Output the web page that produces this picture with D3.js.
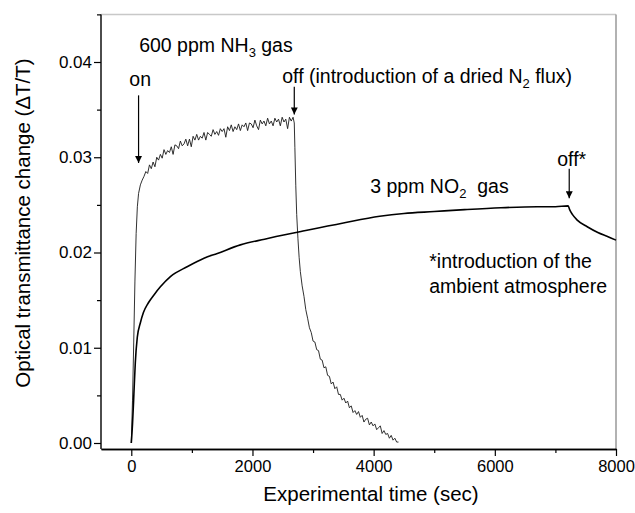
<!DOCTYPE html>
<html>
<head>
<meta charset="utf-8">
<script src="https://cdn.jsdelivr.net/npm/d3@7"></script>
<style>
  html, body { margin: 0; padding: 0; background: #fff; }
  svg { display: block; font-family: "Liberation Sans", Arial, sans-serif; }
</style>
</head>
<body>
<svg id="chart" width="635" height="513"></svg>
<script>
// time (sec), dT/T
const no2Time = [0, 20, 35, 50, 66, 99, 149, 200, 280, 380, 480, 650, 920, 1200, 1420, 1800, 2200,
  2800, 3500, 4100, 4500, 5000, 5500, 6100, 6700, 7000, 7210, 7235, 7280, 7360, 7525, 7700, 7850, 8000];
const no2Value = [0, 0.0020, 0.0040, 0.0062, 0.0084, 0.0111, 0.0126, 0.0137, 0.0147, 0.0156, 0.0164,
  0.0175, 0.0185, 0.0194, 0.0199, 0.0208, 0.0214, 0.0222, 0.0231, 0.0238, 0.0241, 0.0243, 0.0245,
  0.0247, 0.0248, 0.0248, 0.0249, 0.0245, 0.0240, 0.0234, 0.0227, 0.0221, 0.0217, 0.0213];

const nh3Time = [0, 20, 40, 60, 80, 100, 120, 150,
  180, 210, 240, 270, 300, 330, 360, 390, 420, 450, 480, 510, 540, 570, 600, 630, 660, 690, 720,
  750, 780, 810, 840, 870, 900, 930, 960, 990, 1020, 1050, 1080, 1110, 1140, 1170, 1200, 1230,
  1260, 1290, 1320, 1350, 1380, 1410, 1440, 1470, 1500, 1530, 1560, 1590, 1620, 1650, 1680, 1710,
  1740, 1770, 1800, 1830, 1860, 1890, 1920, 1950, 1980, 2010, 2040, 2070, 2100, 2130, 2160, 2190,
  2220, 2250, 2280, 2310, 2340, 2370, 2400, 2430, 2460, 2490, 2520, 2550, 2580, 2610, 2640, 2670,
  2690, 2700, 2715, 2730, 2750, 2770, 2790,
  2820, 2850, 2880, 2910, 2940, 2970, 3000, 3030, 3060, 3090, 3120, 3150, 3180, 3210, 3240, 3270,
  3300, 3330, 3360, 3390, 3420, 3450, 3480, 3510, 3540, 3570, 3600, 3630, 3660, 3690, 3720, 3750,
  3780, 3810, 3840, 3870, 3900, 3930, 3960, 3990, 4020, 4050, 4080, 4110, 4140, 4170, 4200, 4230,
  4260, 4290, 4320, 4350, 4380, 4410];
const nh3Value = [0, 0.0045, 0.0105, 0.0170, 0.0220, 0.0248, 0.0262, 0.0271,
  0.0276, 0.0280, 0.0285, 0.0283, 0.0292, 0.0288, 0.0295, 0.0290, 0.0300, 0.0297, 0.0303, 0.0299,
  0.0308, 0.0303, 0.0307, 0.0305, 0.0311, 0.0303, 0.0313, 0.0312, 0.0309, 0.0317, 0.0312, 0.0314,
  0.0319, 0.0312, 0.0319, 0.0311, 0.0322, 0.0318, 0.0324, 0.0318, 0.0322, 0.0320, 0.0326, 0.0318,
  0.0326, 0.0324, 0.0322, 0.0329, 0.0324, 0.0327, 0.0323, 0.0330, 0.0327, 0.0330, 0.0321, 0.0332,
  0.0328, 0.0334, 0.0327, 0.0332, 0.0329, 0.0335, 0.0328, 0.0334, 0.0332, 0.0336, 0.0328, 0.0336,
  0.0335, 0.0331, 0.0339, 0.0333, 0.0329, 0.0339, 0.0335, 0.0338, 0.0333, 0.0341, 0.0335, 0.0338,
  0.0333, 0.0341, 0.0337, 0.0340, 0.0333, 0.0342, 0.0337, 0.0340, 0.0330, 0.0342, 0.0338, 0.0342,
  0.0336, 0.0310, 0.0270, 0.0240, 0.0215, 0.0195, 0.0180,
  0.0165, 0.0154, 0.0140, 0.0131, 0.0121, 0.0116, 0.0107, 0.0106, 0.0098, 0.0097, 0.0088, 0.0087,
  0.0079, 0.0080, 0.0071, 0.0070, 0.0062, 0.0064, 0.0057, 0.0059, 0.0051, 0.0051, 0.0045, 0.0047,
  0.0042, 0.0044, 0.0037, 0.0039, 0.0032, 0.0034, 0.0030, 0.0033, 0.0027, 0.0029, 0.0022, 0.0025,
  0.0026, 0.0019, 0.0022, 0.0018, 0.0020, 0.0014, 0.0016, 0.0018, 0.0010, 0.0013, 0.0009, 0.0010,
  0.0005, 0.0008, 0.0003, 0.0005, 0.0001, 0.0001];

const xMajorTicks = [0, 2000, 4000, 6000, 8000];
const xMinorTicks = [1000, 3000, 5000, 7000];
const yMajorTicks = [0, 0.01, 0.02, 0.03, 0.04];
const yMinorTicks = [0.005, 0.015, 0.025, 0.035, 0.045];

// arrows: time, start value, tip value
const arrows = [
  { t: 120, from: 0.0365, to: 0.0294 },
  { t: 2690, from: 0.0374, to: 0.0345 },
  { t: 7228, from: 0.0288, to: 0.0257 },
];

// labels: [text, subscript, tail], anchored at time / value
const labels = [
  { t: 130, v: 0.0410, parts: ['600 ppm NH', '3', ' gas'] },
  { t: -33, v: 0.0375, parts: ['on'] },
  { t: 2492, v: 0.0378, parts: ['off (introduction of a dried N', '2', ' flux)'] },
  { t: 7030, v: 0.0291, parts: ['off*'] },
  { t: 3944, v: 0.02625, parts: ['3 ppm NO', '2', '  gas'] },
  { t: 4918, v: 0.01837, parts: ['*introduction of the'] },
  { t: 4918, v: 0.01575, parts: ['ambient atmosphere'] },
];

const font = '"Liberation Sans", Arial, sans-serif';
const svg = d3.select('#chart');
const x = d3.scaleLinear().domain([-500, 8000]).range([101, 616]);
const y = d3.scaleLinear().domain([0, 0.04]).range([443, 62]);
const plotLeft = 101;
const plotRight = 616;
const plotTop = y(0.045);
const plotBottom = 449;

// frame
svg.append('line')
  .attr('x1', plotLeft).attr('x2', plotRight).attr('y1', plotTop).attr('y2', plotTop)
  .attr('stroke', '#c8c8c8').attr('stroke-width', 1.5);
svg.append('line')
  .attr('x1', plotRight).attr('x2', plotRight).attr('y1', plotTop).attr('y2', plotBottom)
  .attr('stroke', '#999').attr('stroke-width', 1.5);

// bottom axis
const xAxis = svg.append('g').attr('transform', `translate(0,${plotBottom})`);
xAxis.call(d3.axisBottom(x).tickValues(xMajorTicks).tickSize(7).tickSizeOuter(0)
  .tickPadding(4).tickFormat(d3.format('d')));
xAxis.append('g').call(d3.axisBottom(x).tickValues(xMinorTicks).tickSize(4).tickSizeOuter(0).tickFormat(''));
xAxis.selectAll('.domain').attr('stroke', '#000').attr('stroke-width', 1.4);
xAxis.selectAll('.tick line').attr('stroke', '#000').attr('stroke-width', 1.2);
xAxis.selectAll('.tick text')
  .attr('font-size', 16.5).attr('font-family', font).attr('fill', '#000');

// left axis
const yAxis = svg.append('g').attr('transform', `translate(${plotLeft},0)`);
yAxis.call(d3.axisLeft(y).tickValues(yMajorTicks).tickSize(7).tickSizeOuter(0)
  .tickPadding(2).tickFormat(d3.format('.2f')));
yAxis.append('g').call(d3.axisLeft(y).tickValues(yMinorTicks).tickSize(4).tickSizeOuter(0).tickFormat(''));
yAxis.selectAll('.domain').remove();
yAxis.append('line')
  .attr('y1', plotTop).attr('y2', plotBottom)
  .attr('stroke', '#000').attr('stroke-width', 1.4);
yAxis.selectAll('.tick line').attr('stroke', '#000').attr('stroke-width', 1.2);
yAxis.selectAll('.tick text')
  .attr('font-size', 17).attr('font-family', font).attr('fill', '#000');

// axis titles
svg.append('text')
  .attr('x', 371).attr('y', 501)
  .attr('text-anchor', 'middle').attr('font-size', 20.5)
  .text('Experimental time (sec)');
svg.append('text')
  .attr('transform', 'translate(30,223) rotate(-90)')
  .attr('text-anchor', 'middle').attr('font-size', 20.5)
  .text('Optical transmittance change (\u0394T/T)');

// curves
const line = d3.line()
  .x((d) => x(d[0]))
  .y((d) => y(d[1]));

svg.append('path')
  .datum(d3.zip(nh3Time, nh3Value))
  .attr('fill', 'none')
  .attr('stroke', '#1a1a1a')
  .attr('stroke-width', 0.9)
  .attr('d', line);

svg.append('path')
  .datum(d3.zip(no2Time, no2Value))
  .attr('fill', 'none')
  .attr('stroke', '#000')
  .attr('stroke-width', 1.6)
  .attr('stroke-linejoin', 'round')
  .attr('d', line.curve(d3.curveMonotoneX));

// arrows
svg.append('defs').append('marker')
  .attr('id', 'head')
  .attr('viewBox', '0 0 10 10')
  .attr('refX', 10).attr('refY', 5)
  .attr('markerUnits', 'userSpaceOnUse')
  .attr('markerWidth', 10).attr('markerHeight', 7)
  .attr('orient', 'auto')
  .append('path')
  .attr('d', 'M0,0L10,5L0,10Z')
  .attr('fill', '#000');

svg.selectAll('line.arrow')
  .data(arrows)
  .enter()
  .append('line')
  .attr('class', 'arrow')
  .attr('x1', (d) => x(d.t)).attr('x2', (d) => x(d.t))
  .attr('y1', (d) => y(d.from)).attr('y2', (d) => y(d.to))
  .attr('stroke', '#000').attr('stroke-width', 1.2)
  .attr('marker-end', 'url(#head)');

// labels
const lab = svg.selectAll('text.note')
  .data(labels)
  .enter()
  .append('text')
  .attr('class', 'note')
  .attr('x', (d) => x(d.t))
  .attr('y', (d) => y(d.v))
  .attr('font-size', 19.5)
  .attr('fill', '#000');

lab.each(function (d) {
  const el = d3.select(this);
  el.append('tspan').text(d.parts[0]);
  if (d.parts.length > 1) {
    el.append('tspan').attr('font-size', 13).attr('dy', 5).text(d.parts[1]);
    el.append('tspan').attr('dy', -5).style('white-space', 'pre').text(d.parts[2]);
  }
});
</script>
</body>
</html>
